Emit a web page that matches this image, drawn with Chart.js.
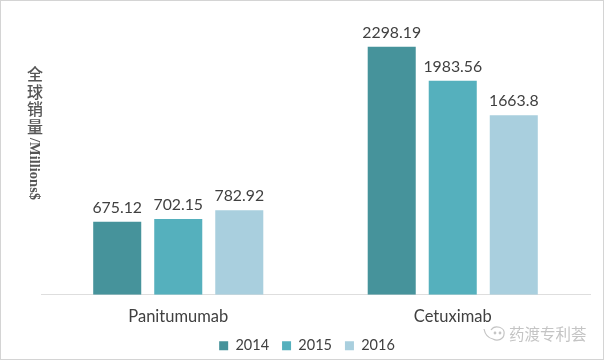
<!DOCTYPE html>
<html>
<head>
<meta charset="utf-8">
<style>
  html, body { margin: 0; padding: 0; background: #fff; overflow: hidden; }
  #wrap { position: relative; width: 604px; height: 360px; }
  #frame { position: absolute; left: 0; top: 0; width: 602px; height: 358px; border: 1px solid #d4d4d4; pointer-events: none; }
  #yCjk {
    position: absolute; left: 26px; top: 65px; width: 18px;
    font: 500 16px/17.5px "Noto Sans CJK SC", sans-serif;
    color: #555; text-align: center;
  }
  #yLatin {
    position: absolute; left: 27px; top: 138px;
    transform-origin: 0 0; transform: translate(16px, 0) rotate(90deg);
    font: bold 14.5px/16px "Liberation Serif", serif;
    color: #555; white-space: nowrap;
  }
  #mark {
    position: absolute; left: 482px; top: 322px;
    color: #c4c4c4; font: 15.5px "Noto Sans CJK SC", sans-serif;
    white-space: nowrap; line-height: 22px;
  }
  #mark svg { vertical-align: middle; margin-right: 3px; }
</style>
<script src="https://cdn.jsdelivr.net/npm/chart.js@4/dist/chart.umd.js"></script>
</head>
<body>
<div id="wrap">
  <canvas id="salesChart" width="604" height="360"></canvas>
  <div id="yCjk">全<br>球<br>销<br>量</div>
  <div id="yLatin">/Millions$</div>
  <div id="mark"><svg width="24" height="20" viewBox="0 0 24 20" fill="none" stroke="#c4c4c4" stroke-width="1.2"><path d="M2 3c1 5 4 9 9 10"/><path d="M9 4a7 6 0 0 1 13 4a7 6 0 0 1-11 5"/><circle cx="13" cy="7" r=".8"/><circle cx="18" cy="7" r=".8"/></svg>药渡专利荟</div>
  <div id="frame"></div>
</div>
<script>
const products = ["Panitumumab", "Cetuximab"];
const sales2014 = [675.12, 2298.19];
const sales2015 = [702.15, 1983.56];
const sales2016 = [782.92, 1663.8];

const teal1 = "#46939b";
const teal2 = "#55b0bd";
const teal3 = "#a9cfde";
const textColor = "#404040";
const fontName = "Lato, 'Open Sans', sans-serif";

// value above each bar
const barValues = {
  id: "barValues",
  afterDatasetsDraw(chart) {
    const ctx = chart.ctx;
    ctx.save();
    ctx.font = "15.8px " + fontName;
    ctx.fillStyle = textColor;
    ctx.textAlign = "center";
    ctx.textBaseline = "bottom";
    chart.data.datasets.forEach((ds, i) => {
      chart.getDatasetMeta(i).data.forEach((bar, j) => {
        ctx.fillText(ds.data[j], bar.x, bar.y - 6);
      });
    });
    ctx.restore();
  },
};

// legend sits a bit left of the plot centre in the original
const legendShift = {
  id: "legendShift",
  afterLayout(chart) {
    chart.legend.left -= 8.5;
    chart.legend.right -= 8.5;
    chart.legend.top -= 5;
    chart.legend.bottom -= 5;
  },
};

new Chart(document.getElementById("salesChart").getContext("2d"), {
  type: "bar",
  data: {
    labels: products,
    datasets: [
      { label: "2014", data: sales2014, backgroundColor: teal1 },
      { label: "2015", data: sales2015, backgroundColor: teal2 },
      { label: "2016", data: sales2016, backgroundColor: teal3 },
    ],
  },
  options: {
    responsive: false,
    animation: false,
    categoryPercentage: 0.667,
    barPercentage: 0.787,
    layout: { padding: { left: 41, right: 14, top: 25, bottom: -8 } },
    scales: {
      x: {
        grid: { display: false },
        border: { color: "#dedede" },
        ticks: { color: textColor, font: { family: fontName, size: 16.5 }, padding: 4 },
      },
      y: { display: false, min: 0, max: 2500 },
    },
    plugins: {
      tooltip: { enabled: false },
      legend: {
        position: "bottom",
        labels: {
          boxWidth: 9,
          boxHeight: 9,
          padding: 13,
          color: textColor,
          font: { family: fontName, size: 14.5 },
        },
      },
    },
  },
  plugins: [barValues, legendShift],
});
</script>
</body>
</html>
